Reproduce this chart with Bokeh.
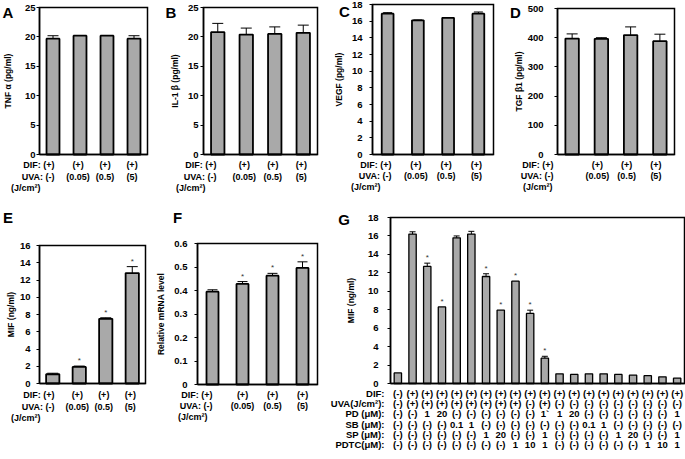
from bokeh.plotting import figure
from bokeh.layouts import row, column
from bokeh.models import Range1d, FixedTicker, Label, Whisker, TeeHead, ColumnDataSource
from bokeh.embed import file_html
from bokeh.resources import INLINE
from bokeh.core.properties import value

FONT = "Liberation Sans"

# ---------------- data ----------------
dif_row = ["(+)", "(+)", "(+)", "(+)"]
uva_row = ["(-)", "(0.05)", "(0.5)", "(5)"]

tnf_a = [19.7, 20.2, 20.2, 19.7]
tnf_a_err = [0.5, 0.0, 0.0, 0.5]
tnf_ticks = [0, 5, 10, 15, 20, 25]

il1b = [20.8, 20.4, 20.5, 20.7]
il1b_err = [1.5, 1.1, 1.2, 1.3]
il1b_ticks = [0, 5, 10, 15, 20, 25]

vegf = [16.9, 16.1, 16.4, 16.9]
vegf_err = [0.12, 0.05, 0.0, 0.2]
vegf_ticks = [0, 2, 4, 6, 8, 10, 12, 14, 16, 18]

tgfb1 = [397, 396, 409, 388]
tgfb1_err = [16, 4, 28, 24]
tgfb1_ticks = [0, 100, 200, 300, 400, 500]

mif_uva = [1.07, 1.92, 7.5, 12.8]
mif_uva_err = [0.12, 0.1, 0.12, 0.75]
mif_uva_star = [False, True, True, True]
mif_ticks = [0, 2, 4, 6, 8, 10, 12, 14, 16]

mrna = [0.395, 0.428, 0.463, 0.496]
mrna_err = [0.008, 0.01, 0.01, 0.026]
mrna_star = [False, True, True, True]
mrna_ticks = [0, 0.1, 0.2, 0.3, 0.4, 0.5, 0.6]

mif_inh = [1.15, 16.2, 12.7, 8.3, 15.8, 16.2, 11.6, 7.95, 11.1, 7.6,
           2.75, 1.05, 0.98, 1.05, 1.05, 0.98, 0.9, 0.85, 0.72, 0.58]
mif_inh_err = [0, 0.25, 0.35, 0, 0.2, 0.3, 0.3, 0, 0, 0.35,
               0.2, 0, 0, 0, 0, 0, 0, 0, 0, 0]
mif_inh_star = [False, False, True, True, False, False, True, True, True, True,
                True, False, False, False, False, False, False, False, False, False]
mif_inh_ticks = [0, 2, 4, 6, 8, 10, 12, 14, 16, 18]

g_dif = ["(-)", "(+)", "(+)", "(+)", "(+)", "(+)", "(+)", "(+)", "(+)", "(+)",
         "(+)", "(+)", "(+)", "(+)", "(+)", "(+)", "(+)", "(+)", "(+)", "(+)"]
g_uva = ["(-)", "(+)", "(+)", "(+)", "(+)", "(+)", "(+)", "(+)", "(+)", "(-)",
         "(+)", "(-)", "(-)", "(-)", "(-)", "(-)", "(-)", "(-)", "(-)", "(-)"]
g_pd = ["(-)", "(-)", "1", "20", "(-)", "(-)", "(-)", "(-)", "(-)", "(-)",
        "1`", "1", "20", "(-)", "(-)", "(-)", "(-)", "(-)", "(-)", "1"]
g_sb = ["(-)", "(-)", "(-)", "(-)", "0.1", "1", "(-)", "(-)", "(-)", "(-)",
        "(-)", "(-)", "(-)", "0.1", "1", "(-)", "(-)", "(-)", "(-)", "(-)"]
g_sp = ["(-)", "(-)", "(-)", "(-)", "(-)", "(-)", "1", "20", "(-)", "(-)",
        "1", "(-)", "(-)", "(-)", "(-)", "1", "20", "(-)", "(-)", "1"]
g_pdtc = ["(-)", "(-)", "(-)", "(-)", "(-)", "(-)", "(-)", "(-)", "1", "10",
          "1", "(-)", "(-)", "(-)", "(-)", "(-)", "(-)", "1", "10", "1"]
g_row_names = ["DIF:", "UVA(J/cm\u00b2):", "PD (\u03bcM):", "SB (\u03bcM):", "SP (\u03bcM):", "PDTC(\u03bcM):"]

BAR_FILL = "#A9A9A9"


def add_text(p, x, y, text, size="9px", align="center", style="bold", baseline="middle"):
    p.add_layout(Label(x=x, y=y, text=text, text_font=FONT, text_font_size=size,
                       text_font_style=style, text_align=align, text_baseline=baseline,
                       text_color="black"))


def make_panel(W, H, fl, ft, fw, fh, ticks, vals, errs, stars, ylab, letter, letter_px,
               lab_standoff, title_standoff, bar_w, tee, bar_lw=1.8, overrides=None):
    n = len(vals)
    yend = ticks[-1]
    ux = n / fw
    uy = yend / fh
    # the frame covers the whole canvas; the plot box is drawn inside it
    xr = Range1d(0.5 - fl * ux, 0.5 + (W - fl) * ux)
    yr = Range1d(-(H - ft - fh) * uy, yend + ft * uy)
    p = figure(width=W, height=H, x_range=xr, y_range=yr,
               output_backend="svg", toolbar_location=None, title=None,
               min_border=0, min_border_left=0, min_border_right=0,
               min_border_top=0, min_border_bottom=0,
               background_fill_color="white", border_fill_color="white")
    p.grid.visible = False
    p.outline_line_color = None

    xs = list(range(1, n + 1))
    src = ColumnDataSource(dict(x=xs, top=vals))
    p.vbar(x="x", top="top", width=bar_w, bottom=0, source=src,
           fill_color=BAR_FILL, line_color="black", line_width=bar_lw)

    ex = [xs[i] for i in range(n) if errs[i] > 0]
    lo = [vals[i] - errs[i] for i in range(n) if errs[i] > 0]
    hi = [vals[i] + errs[i] for i in range(n) if errs[i] > 0]
    if ex:
        wsrc = ColumnDataSource(dict(base=ex, lower=lo, upper=hi))
        p.add_layout(Whisker(source=wsrc, base="base", lower="lower", upper="upper",
                             line_color="black", line_width=1,
                             upper_head=TeeHead(size=tee, line_color="black", line_width=1),
                             lower_head=TeeHead(size=tee, line_color="black", line_width=1)))

    if stars:
        sx = [xs[i] for i in range(n) if stars[i]]
        sy = [vals[i] + errs[i] + 1.0 * uy for i in range(n) if stars[i]]
        p.text(x=sx, y=sy, text=["*"] * len(sx), text_font=value(FONT), text_font_size="8px",
               text_align="center", text_baseline="bottom", text_color="#333333")

    # plot box
    p.line(x=[0.5, 0.5, n + 0.5, n + 0.5, 0.5], y=[0, yend, yend, 0, 0],
           line_color="black", line_width=1.5, line_join="miter")

    xa = p.xaxis[0]
    xa.fixed_location = 0
    xa.bounds = (0.5, n + 0.5)
    xa.ticker = FixedTicker(ticks=[])
    xa.axis_line_width = 1.5
    xa.axis_line_color = "black"
    xa.major_tick_out = 0
    xa.major_tick_in = 0
    xa.minor_tick_line_color = None

    ya = p.yaxis[0]
    ya.fixed_location = 0.5
    ya.bounds = (0, yend)
    ya.ticker = FixedTicker(ticks=ticks)
    ya.axis_line_width = 1.5
    ya.axis_line_color = "black"
    ya.major_tick_in = 0
    ya.major_tick_out = 3
    ya.major_tick_line_color = "black"
    ya.minor_tick_line_color = None
    ya.major_label_standoff = lab_standoff
    ya.major_label_text_font = FONT
    ya.major_label_text_font_size = "9.5px"
    ya.major_label_text_font_style = "bold"
    ya.major_label_text_color = "black"
    if overrides:
        ya.major_label_overrides = overrides
    ya.axis_label = ylab
    ya.axis_label_text_font = FONT
    ya.axis_label_text_font_size = "8.5px"
    ya.axis_label_text_font_style = "bold"
    ya.axis_label_text_color = "black"
    ya.axis_label_standoff = title_standoff

    def dx(rx):
        return 0.5 + (rx - fl) * ux

    def dy(ry):
        return yend - (ry - ft) * uy

    add_text(p, dx(letter_px[0]), dy(letter_px[1]), letter, size="15px")
    p._conv = (dx, dy, ux, uy, fl, ft, fh)
    return p


def treatment_rows(p, first_off, jcm_off, col_shift, offs):
    dx, dy, ux, uy, fl, ft, fh = p._conv
    bottom = ft + fh
    for (name, vals), off in zip([("DIF:", dif_row), ("UVA:", uva_row)], offs[:2]):
        y = dy(bottom + off)
        add_text(p, dx(fl + first_off), y, name + " " + vals[0], align="right")
        for i in range(1, len(vals)):
            add_text(p, i + 1 + col_shift * ux, y, vals[i])
    add_text(p, dx(fl + jcm_off), dy(bottom + offs[2]), "(J/cm\u00b2)", align="right")


# ---------------- top row (height 200) ----------------
pA = make_panel(162, 200, 39, 7, 108, 147, tnf_ticks, tnf_a, tnf_a_err, None,
                "TNF \u03b1 (pg/ml)", "A", (7.5, 12), 1, 9, 0.48, 11)
treatment_rows(pA, 15, 1, -2, [10, 22, 33])

pB = make_panel(172, 200, 41, 7, 114, 147, il1b_ticks, il1b, il1b_err, None,
                "IL-1 \u03b2 (pg/ml)", "B", (8.5, 12), 2, 5, 0.47, 11)
treatment_rows(pB, 13, 2, -2, [10, 22, 33])

pC = make_panel(172, 200, 38, 4, 121, 150, vegf_ticks, vegf, vegf_err, None,
                "VEGF (pg/ml)", "C", (10, 11), 7, 5, 0.39, 9)
treatment_rows(pC, 19, 8, -2, [10, 21, 32])

pD = make_panel(179, 200, 51, 8, 117, 146, tgfb1_ticks, tgfb1, tgfb1_err, None,
                "TGF \u03b21 (pg/ml)", "D", (9, 12), 11, 1, 0.46, 11)
treatment_rows(pD, -4, -5, -4, [10, 21, 32])

# ---------------- bottom row (height 259) ----------------
pE = make_panel(155, 259, 39, 45, 106, 138, mif_ticks, mif_uva, mif_uva_err, mif_uva_star,
                "MIF (ng/ml)", "E", (7.5, 17), 6, 1, 0.5, 11)
treatment_rows(pE, 15, 1, -2, [11, 23, 34])

pF = make_panel(173, 259, 42, 43, 120, 141, mrna_ticks, mrna, mrna_err, mrna_star,
                "Relative mRNA level", "F", (22, 17), 7, 5, 0.4, 10, overrides={0: "0"})
treatment_rows(pF, 15, 10, 0, [10, 21, 32])

pG = make_panel(357, 259, 62, 17, 294, 166, mif_inh_ticks, mif_inh, mif_inh_err, mif_inh_star,
                "MIF (ng/ml)", "G", (15.5, 19), 9, 9, 0.5, 6, bar_lw=1.3)
dxG, dyG, uxG, uyG, flG, ftG, fhG = pG._conv
g_rows = [g_dif, g_uva, g_pd, g_sb, g_sp, g_pdtc]
g_offs = [10.3, 20.3, 30.3, 41, 51, 61.3]
for name, vals, off in zip(g_row_names, g_rows, g_offs):
    y = dyG(ftG + fhG + off)
    add_text(pG, dxG(flG - 6), y, name, size="9.5px", align="right")
    for i, t in enumerate(vals):
        add_text(pG, i + 1, y, t, size="9.5px")

layout = column(row(pA, pB, pC, pD), row(pE, pF, pG))

with open("out.html", "w") as f:
    f.write(file_html(layout, INLINE))
